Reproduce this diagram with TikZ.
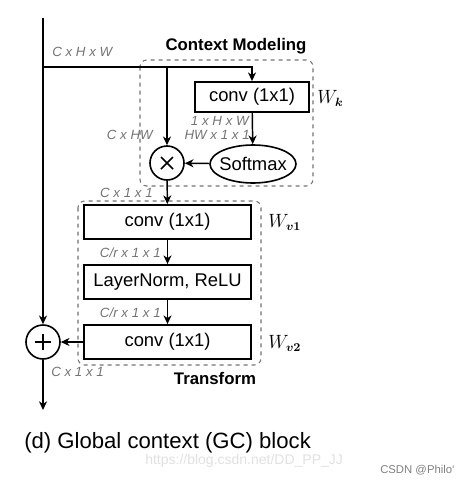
\documentclass[tikz,border=0pt]{standalone}
\usepackage{amsmath}
\usepackage{fontspec}
\setmainfont{Liberation Sans}
\usetikzlibrary{arrows.meta,shapes.geometric}
\tikzset{
  arr/.style={-{Stealth[length=6.5pt,width=6pt,inset=2pt]}, line width=1.1pt},
  blk/.style={draw, line width=1.4pt, rectangle, minimum width=125pt, minimum height=25.5pt, inner sep=0pt, font=\fontsize{13.8}{16}\selectfont},
  op/.style={draw, line width=1.2pt, circle, minimum size=25.5pt, inner sep=0pt},
  dim/.style={text=black!55, font=\fontsize{10}{12}\selectfont\itshape, inner sep=0pt},
  wlab/.style={anchor=west, inner sep=0pt, font=\fontsize{13.5}{16}\selectfont},
  grp/.style={draw=black!55, dashed, line width=0.8pt, rounded corners=5pt},
  ttl/.style={font=\fontsize{12.6}{15}\selectfont\bfseries, inner sep=0pt}
}
\begin{document}
\begin{tikzpicture}[x=0.75pt, y=-0.75pt]
\useasboundingbox (0,0) rectangle (468,482);
% groups
\draw[grp] (140,60) rectangle (313,186);
\draw[grp] (78,201) rectangle (261,365);
\node[ttl] (ctxt) at (236,46) {Context Modeling};
\node[ttl] (trt) at (215,378) {Transform};
% nodes
\coordinate (top) at (43,18);
\coordinate (split) at (43,67);
\coordinate (brA) at (167,67);
\node[blk, minimum width=85.5pt, minimum height=22.5pt] (convk) at (252,97) {conv (1x1)};
\node[draw, line width=1.2pt, ellipse, minimum width=64.5pt, minimum height=28.5pt, inner xsep=-3.5pt, inner ysep=3.5pt, font=\fontsize{13.8}{16}\selectfont] (softmax) at (253,164) {Softmax};
\node[op] (mul) at (167,163) {};
\node[blk] (conv1) at (167.5,222) {conv (1x1)};
\node[blk] (ln) at (167.5,282) {LayerNorm, ReLU};
\node[blk] (conv2) at (167.5,342) {conv (1x1)};
\node[op] (add) at (43,342) {};
\coordinate (out) at (43,410);
% symbols
\draw[line width=1.1pt] (mul.center) ++(-6,-6) -- ++(12,12);
\draw[line width=1.1pt] (mul.center) ++(-6,6) -- ++(12,-12);
\draw[line width=1.8pt] (add.center) ++(-8,0) -- ++(16,0);
\draw[line width=1.8pt] (add.center) ++(0,-8) -- ++(0,16);
% weights
\node[wlab] (wk) at (317,98) {$W_{\boldsymbol{k}}$};
\node[wlab] (wv1) at (268,222) {$W_{\boldsymbol{v1}}$};
\node[wlab] (wv2) at (268,343) {$W_{\boldsymbol{v2}}$};
% connectors
\draw[arr] (top) -- (add);
\draw[line width=1.1pt] (split) -- (brA);
\draw[arr] (split) -| (convk);
\draw[arr] (brA) -- (mul);
\draw[arr] (convk) -- (softmax);
\draw[arr] (softmax) -- (mul);
\draw[arr] (mul) -- (conv1);
\draw[arr] (conv1) -- (ln);
\draw[arr] (ln) -- (conv2);
\draw[arr] (conv2) -- (add);
\draw[arr] (add) -- (out);
% dimension labels
\node[dim, anchor=west] (dA) at (52,52) {C x H x W};
\node[dim, anchor=east] (dB) at (249,121) {1 x H x W};
\node[dim, anchor=east] (dC) at (250,135) {HW x 1 x 1};
\node[dim, anchor=east] (dD) at (153,135) {C x HW};
\node[dim, anchor=east] (dE) at (153,193) {C x 1 x 1};
\node[dim, anchor=east] (dF) at (161,253) {C/r x 1 x 1};
\node[dim, anchor=east] (dG) at (161,313) {C/r x 1 x 1};
\node[dim, anchor=west] (dH) at (51,372) {C x 1 x 1};
% caption and marks
\node[anchor=west, inner sep=0pt, font=\fontsize{16.6}{20}\selectfont] (cap) at (24,443) {(d) Global context (GC) block};
\node[anchor=west, inner sep=0pt, text=black!12, font=\fontsize{10.5}{12}\selectfont] (url) at (145,461) {https://blog.csdn.net/DD\_PP\_JJ};
\node[anchor=east, inner sep=0pt, text=black!50, font=\fontsize{8.5}{10}\selectfont] (csdn) at (455,470) {CSDN @Philo`};
\end{tikzpicture}
\end{document}
